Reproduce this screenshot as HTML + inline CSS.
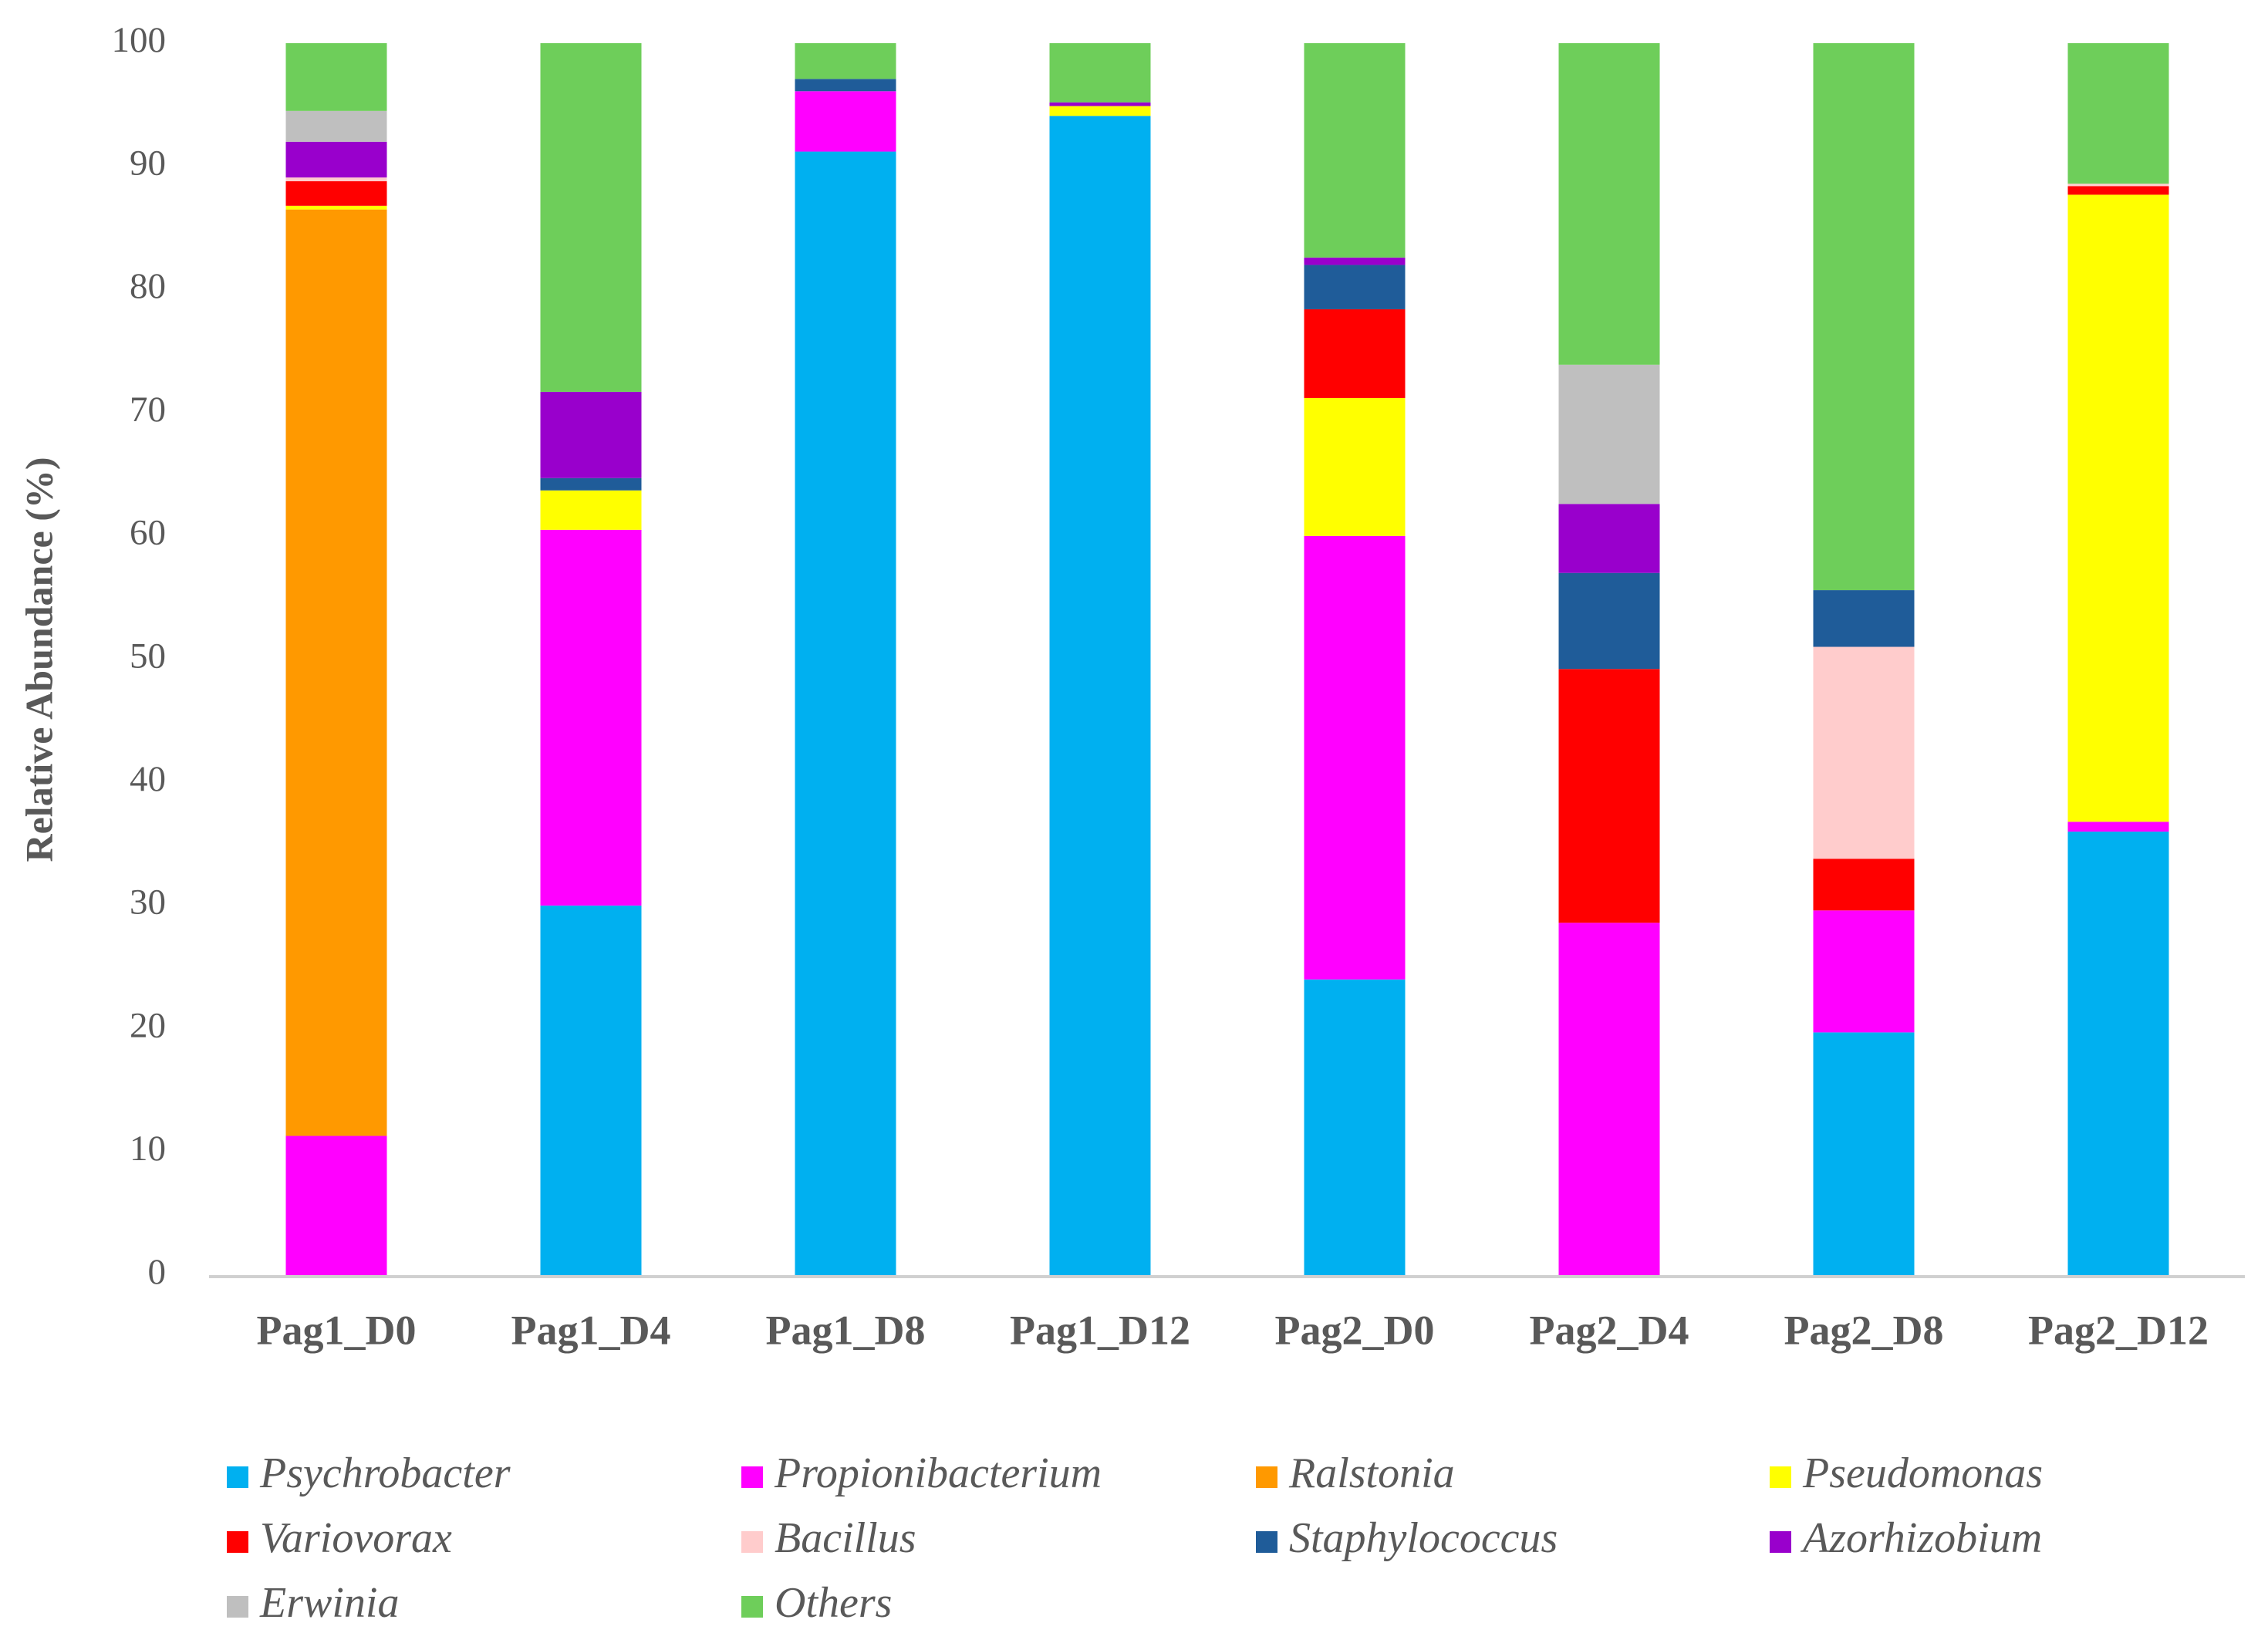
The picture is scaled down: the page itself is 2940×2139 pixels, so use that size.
<!DOCTYPE html>
<html><head><meta charset="utf-8"><style>
body{margin:0;background:#fff;}
</style></head><body>
<svg id="chart" width="2940" height="2134" viewBox="0 0 2940 2134" xmlns="http://www.w3.org/2000/svg" font-family="Liberation Serif, serif">
<rect width="2940" height="2134" fill="#fff"/>
<g id="yticks"></g>
<g id="bars"></g>
<line x1="271" y1="1655" x2="2910" y2="1655" stroke="#d0d0d0" stroke-width="4"/>
<g id="xlabels"></g>
<text x="56" y="855" transform="rotate(-90 56 855)" text-anchor="middle" dominant-baseline="middle" font-size="50" font-weight="bold" fill="#595959" font-family="Liberation Serif, serif">Relative Abundance (%)</text>
<g id="legend"></g>
</svg>
<script>
const categories = ["Pag1_D0","Pag1_D4","Pag1_D8","Pag1_D12","Pag2_D0","Pag2_D4","Pag2_D8","Pag2_D12"];
const seriesNames = ["Psychrobacter","Propionibacterium","Ralstonia","Pseudomonas","Variovorax","Bacillus","Staphylococcus","Azorhizobium","Erwinia","Others"];
const seriesColors = ["#00B0F0","#FF00FF","#FF9900","#FFFF00","#FF0000","#FFCCCC","#1F5C99","#9900CC","#BFBFBF","#6ECE5A"];
const psychrobacter     = [0, 30, 91.2, 94.1, 24, 0, 19.7, 36];
const propionibacterium = [11.3, 30.5, 4.9, 0, 36, 28.6, 9.9, 0.8];
const ralstonia         = [75.2, 0, 0, 0, 0, 0, 0, 0];
const pseudomonas       = [0.3, 3.2, 0, 0.8, 11.2, 0, 0, 50.9];
const variovorax        = [2.0, 0, 0, 0, 7.2, 20.6, 4.2, 0.7];
const bacillus          = [0.3, 0, 0, 0, 0, 0, 17.2, 0.2];
const staphylococcus    = [0, 1.0, 1.0, 0, 3.6, 7.8, 4.6, 0];
const azorhizobium      = [2.9, 7.0, 0, 0.3, 0.6, 5.6, 0, 0];
const erwinia           = [2.5, 0, 0, 0, 0, 11.3, 0, 0];
const others            = [5.5, 28.3, 2.9, 4.8, 17.4, 26.1, 44.4, 11.4];
const yTicks = [0,10,20,30,40,50,60,70,80,90,100];

const series = [psychrobacter,propionibacterium,ralstonia,pseudomonas,variovorax,bacillus,staphylococcus,azorhizobium,erwinia,others];
const NS="http://www.w3.org/2000/svg";
const y0=1653, y100=56, x0=271, band=330, bw=131;
const yScale = v => y0 - (y0-y100)*v/100;
const xCenter = i => x0 + band*(i+0.5);
const FF="Liberation Serif, serif";
function mk(tag, attrs, parent){const e=document.createElementNS(NS,tag);for(const k in attrs)e.setAttribute(k,attrs[k]);parent.appendChild(e);return e;}

const yt=document.getElementById('yticks');
yTicks.forEach(t=>{
  const e=mk('text',{x:215,y:yScale(t),'text-anchor':'end','dominant-baseline':'middle','font-size':47,fill:'#595959','font-family':FF},yt);
  
  
  e.textContent=t;
});

const bars=document.getElementById('bars');
categories.forEach((c,i)=>{
  let cum=0;
  series.forEach((s,j)=>{
    const v=s[i]; if(v<=0) return;
    const r=mk('rect',{x:xCenter(i)-bw/2,y:yScale(cum+v),width:bw,height:yScale(cum)-yScale(cum+v),fill:seriesColors[j]},bars);
    
    
    cum+=v;
  });
});

const xl=document.getElementById('xlabels');
categories.forEach((c,i)=>{
  const e=mk('text',{x:xCenter(i),y:1730,'text-anchor':'middle','dominant-baseline':'middle','font-size':54,'font-weight':'bold',fill:'#595959','font-family':FF},xl);
  
  
  e.textContent=c;
});

const lg=document.getElementById('legend');
const colX=[294,961,1628,2294], rowY=[1915,1999,2083];
seriesNames.forEach((n,k)=>{
  const cx=colX[k%4], cy=rowY[Math.floor(k/4)];
  const g=mk('g',{},lg);
  
  
  mk('rect',{x:cx,y:cy-14,width:28,height:28,fill:seriesColors[k]},g);
  const t=mk('text',{x:cx+43,y:cy,'dominant-baseline':'middle','font-size':56,'font-style':'italic',fill:'#595959','font-family':FF},g);
  t.textContent=n;
});
</script>
</body></html>
